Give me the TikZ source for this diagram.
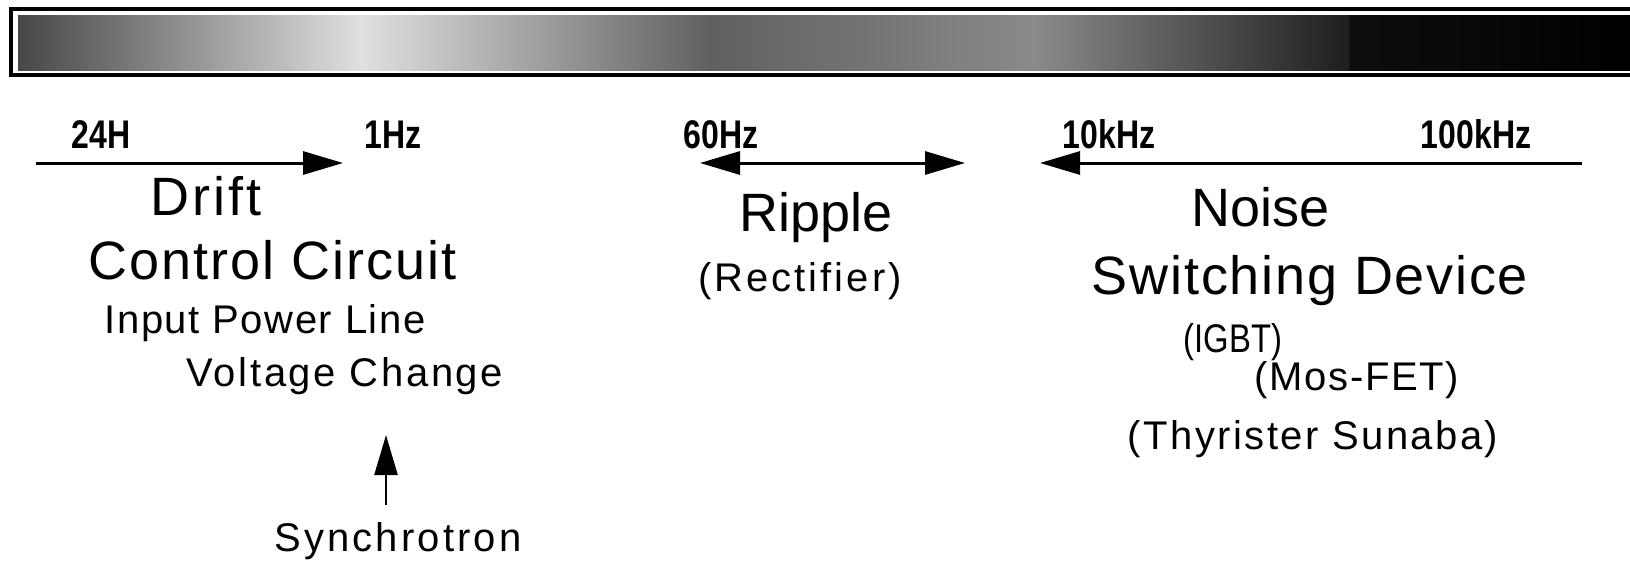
\documentclass[tikz,border=0pt]{standalone}
\usepackage{fontspec}
\setmainfont{Liberation Sans}
\usetikzlibrary{arrows.meta}
\definecolor{ga}{HTML}{474747}
\definecolor{gb}{HTML}{E0E0E0}
\definecolor{gc}{HTML}{606060}
\definecolor{gd}{HTML}{8A8A8A}
\definecolor{ge}{HTML}{1E1E1E}
\definecolor{gf}{HTML}{0E0E0E}
\newcommand\sx[2]{\scalebox{#1}[1]{#2}}
\newcommand\ls[2]{{\addfontfeature{LetterSpace=#1}#2}}
\begin{document}
\begin{tikzpicture}[x=1pt,y=-1pt,
  freq/.style={font=\fontsize{40}{40}\selectfont\bfseries, anchor=base, inner sep=0pt},
  big/.style={font=\fontsize{54}{54}\selectfont, anchor=base, inner sep=0pt},
  mid/.style={font=\fontsize{40}{40}\selectfont, anchor=base, inner sep=0pt},
  arr/.style={line width=3pt, -{Triangle[length=40pt,width=23pt]}},
  darr/.style={line width=3pt, {Triangle[length=40pt,width=23pt]}-{Triangle[length=40pt,width=23pt]}}]
\useasboundingbox (0,0) rectangle (1630,562);
% gradient bar
\shade[left color=ga, right color=gb] (18,15) rectangle (361.5,70);
\shade[left color=gb, right color=gc] (361,15) rectangle (710.5,70);
\shade[left color=gc, right color=gd] (710,15) rectangle (1035.5,70);
\shade[left color=gd, right color=ge] (1035,15) rectangle (1349.5,70);
\shade[left color=gf, right color=black] (1349,15) rectangle (1630,70);
\draw[line width=4pt] (1640,9) -- (11,9) -- (11,75) -- (1640,75);
% frequency labels
\node[freq] (f24) at (101,148) {\sx{0.8}{24H}};
\node[freq] (f1) at (393,148) {\sx{0.8}{1Hz}};
\node[freq] (f60) at (721,148) {\sx{0.8}{60Hz}};
\node[freq] (f10k) at (1109,148) {\sx{0.8}{10kHz}};
\node[freq] (f100k) at (1476,148) {\sx{0.8}{100kHz}};
% arrows
\coordinate (a1) at (36,163);
\coordinate (a2) at (343,163);
\coordinate (b1) at (700,163);
\coordinate (b2) at (965,163);
\coordinate (c1) at (1582,163);
\coordinate (c2) at (1040,163);
\draw[arr] (a1) -- (a2);
\draw[darr] (b1) -- (b2);
\draw[arr] (c1) -- (c2);
% drift block
\node[big] (drift) at (206,215) {\ls{5.8}{Drift}};
\node[big] (ctrl) at (273,279) {\ls{3.7}{Control Circuit}};
\node[mid] (inp) at (265,333) {\ls{4}{Input Power Line}};
\node[mid] (volt) at (345,386) {\ls{6.6}{Voltage Change}};
% ripple block
\node[big] (ripple) at (816,231) {Ripple};
\node[mid] (rect) at (800,291) {\ls{7.5}{(Rectifier)}};
% noise block
\node[big] (noise) at (1261,226) {Noise};
\node[big] (sw) at (1310,294) {\ls{3.3}{Switching Device}};
\node[mid] (igbt) at (1233,352) {\sx{0.82}{(IGBT)}};
\node[mid] (mos) at (1357,390) {\ls{4.2}{(Mos-FET)}};
\node[mid] (thy) at (1313,449) {\ls{6.1}{(Thyrister Sunaba)}};
% synchrotron
\node[mid] (syn) at (398,551) {\ls{7.8}{Synchrotron}};
\coordinate (s1) at (386,505);
\coordinate (s2) at (386,435);
\draw[arr, line width=2.5pt] (s1) -- (s2);
\end{tikzpicture}
\end{document}
